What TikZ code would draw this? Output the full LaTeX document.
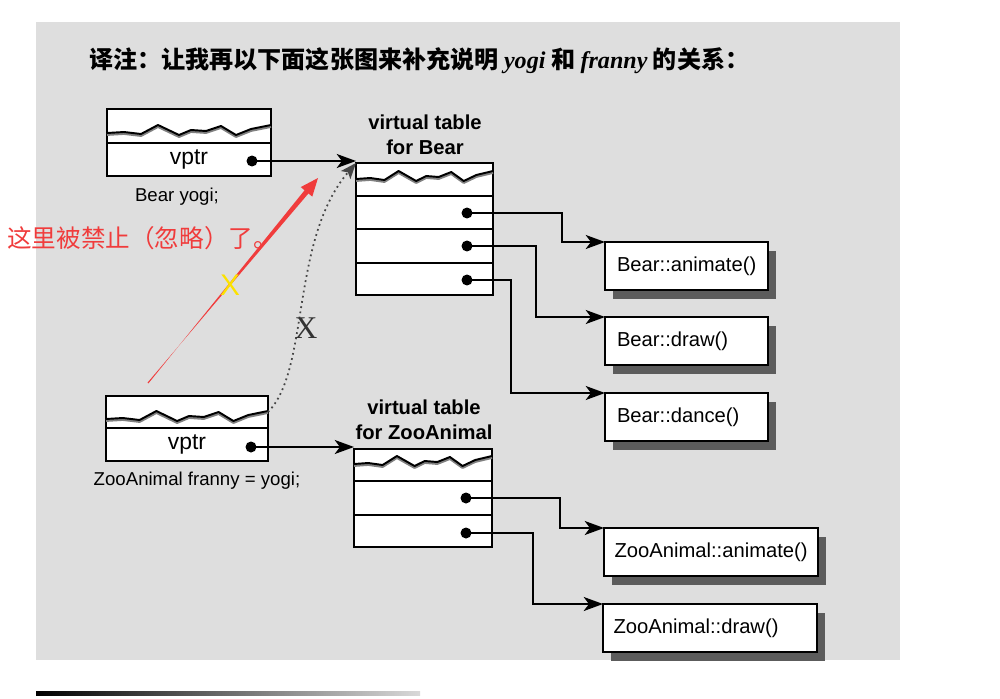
\documentclass[tikz,border=0pt]{standalone}
\usepackage{fontspec}
\setmainfont{Liberation Sans}
\newfontfamily\cjkfont{Noto Sans CJK SC}
\newfontfamily\timesfont{Liberation Serif}
\usetikzlibrary{arrows.meta,calc,shadows}
\definecolor{bggray}{RGB}{222,222,222}
\definecolor{shadowgray}{RGB}{92,92,92}
\definecolor{redmark}{RGB}{240,60,60}
\definecolor{yellowx}{RGB}{252,226,0}
\definecolor{dotgray}{RGB}{70,70,70}
\newcommand\upx{0.02cm}
\newcommand\wavepts{(0,4) -- (17,3) -- (34,5) -- (51,-4) -- (72,6) -- (84,1) -- (99,2)
    -- (114,-3) -- (129,6) -- (144,0) -- (164,-4)}
\newcommand\wavyline[4]{%
  \draw[waveshade, shift={(#1,#2+#4+1.5)}, xscale=#3/164] \wavepts;
  \draw[waveline, shift={(#1,#2+#4)}, xscale=#3/164] \wavepts;}
\tikzset{
  cell/.style 2 args={draw, line width=1.3pt, fill=white, anchor=north west,
    inner sep=0pt, outer sep=0pt, minimum width=#1*\upx, minimum height=#2*\upx},
  waveline/.style={line width=1.1pt, line join=round},
  waveshade/.style={line width=1.6pt, line join=round, draw=black!50},
  dotnode/.style={circle, fill=black, inner sep=0pt, minimum size=0.22cm},
  conn/.style={line width=0.9pt, -{Stealth[length=11pt,width=8pt,inset=3pt]}},
  fbox/.style={draw, line width=1.1pt, fill=white, anchor=north west, outer sep=0pt,
    minimum height=0.96cm, inner ysep=0pt, align=left,
    font=\fontsize{11.5}{13}\selectfont,
    drop shadow={shadow xshift=0.16cm, shadow yshift=-0.18cm, fill=shadowgray, opacity=1}},
  bearfn/.style={fbox, minimum width=3.26cm, text width=2.78cm, inner xsep=0.24cm},
  zoofn/.style={fbox, minimum width=4.28cm, text width=3.86cm, inner xsep=0.21cm},
  vtitle/.style={align=center, font=\bfseries\fontsize{11.5}{14.5}\selectfont, inner sep=0pt},
  objlabel/.style={font=\fontsize{10.6}{12}\selectfont, inner sep=0pt},
  vptrtext/.style={font=\fontsize{13}{15}\selectfont},
}
\begin{document}
\begin{tikzpicture}[x=0.02cm, y=-0.02cm]
\useasboundingbox (0,0) rectangle (1000,699);
\fill[bggray] (36,22) rectangle (900,660);
\shade[left color=black, right color=black!15] (36,691) rectangle (420,695);

% heading
\node[anchor=base west, inner sep=0pt] (title) at (89,69)
  {\cjkfont\bfseries\fontsize{13.7}{16}\selectfont 译注：让我再以下面这张图来补充说明 {\timesfont\itshape yogi} 和 {\timesfont\itshape franny} 的关系：};

% object yogi
\node[cell={164}{34}] (y0) at (107,109) {};
\node[cell={164}{33}, vptrtext] (y1) at (107,143) {vptr};
\wavyline{107}{109}{164}{20}
\node[dotnode] (yd) at (252,161) {};
\node[objlabel] (ylab) at (177,197) {Bear yogi;};

% object franny
\node[cell={162}{32}] (f0) at (106,396) {};
\node[cell={162}{33}, vptrtext] (f1) at (106,428) {vptr};
\wavyline{106}{396}{162}{19}
\node[dotnode] (fd) at (251,447) {};
\node[objlabel] (flab) at (197,481) {ZooAnimal franny = yogi;};

% virtual table for Bear
\node[vtitle] (btitle) at (425,135) {virtual table\\for Bear};
\node[cell={137}{33}] (b0) at (356,163) {};
\node[cell={137}{33}] (b1) at (356,196) {};
\node[cell={137}{34}] (b2) at (356,229) {};
\node[cell={137}{32}] (b3) at (356,263) {};
\wavyline{356}{163}{137}{12}
\node[dotnode] (bd1) at (467,213) {};
\node[dotnode] (bd2) at (467,246) {};
\node[dotnode] (bd3) at (467,280) {};

% virtual table for ZooAnimal
\node[vtitle] (ztitle) at (424,420) {virtual table\\for ZooAnimal};
\node[cell={138}{32}] (z0) at (354,449) {};
\node[cell={138}{34}] (z1) at (354,481) {};
\node[cell={138}{32}] (z2) at (354,515) {};
\wavyline{354}{449}{138}{11}
\node[dotnode] (zd1) at (466,498) {};
\node[dotnode] (zd2) at (466,533) {};

% functions
\node[bearfn] (fa) at (605,242) {Bear::animate()};
\node[bearfn] (fdr) at (605,317) {Bear::draw()};
\node[bearfn] (fc) at (605,393) {Bear::dance()};
\node[zoofn] (za) at (604,528) {ZooAnimal::animate()};
\node[zoofn] (zdr) at (603,604) {ZooAnimal::draw()};

% connectors
\draw[conn] (yd.center) -- (yd.center -| b0.west);
\draw[conn] (fd.center) -- (fd.center -| z0.west);
\draw[conn] (bd1.center) -| (562,242) -- (fa.north west);
\draw[conn] (bd2.center) -| (536,317) -- (fdr.north west);
\draw[conn] (bd3.center) -| (511,393) -- (fc.north west);
\draw[conn] (zd1.center) -| (560,528) -- (za.north west);
\draw[conn] (zd2.center) -| (533,604) -- (zdr.north west);

% dotted forbidden link
\draw[dotgray, line width=1pt, dotted, -{Stealth[length=9pt,width=7pt,inset=2pt]}]
  (f0.east) .. controls (310,370) and (290,240) .. (b0.north west);
\node[text=black!80, font=\timesfont\fontsize{18}{20}\selectfont, inner sep=0pt] (bx) at (306,328) {X};

% red annotation
\coordinate (rt) at (148,383);
\coordinate (rh) at (318,178);
\coordinate (rb) at ($(rh)!0.36cm!(rt)$);
\fill[redmark] ($(rt)!0.012cm!90:(rh)$) -- ($(rb)!0.05cm!-90:(rh)$) -- ($(rb)!0.15cm!-90:(rh)$)
  -- (rh) -- ($(rb)!0.15cm!90:(rh)$) -- ($(rb)!0.05cm!90:(rh)$) -- ($(rt)!0.012cm!-90:(rh)$) -- cycle;
\node[text=yellowx, font=\fontsize{17}{19}\selectfont, inner sep=0pt] (yx) at (230,285) {X};
\node[anchor=west, inner sep=0pt, text=redmark, font=\cjkfont\fontsize{14}{16}\selectfont] (rtxt) at (7,238) {这里被禁止（忽略）了。};
\end{tikzpicture}
\end{document}
